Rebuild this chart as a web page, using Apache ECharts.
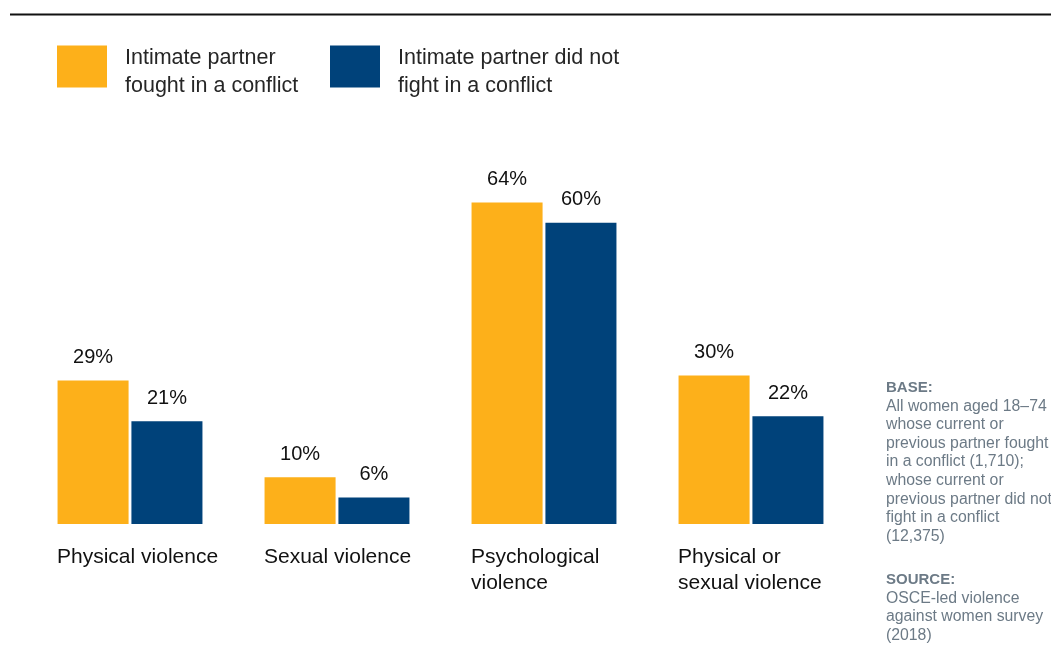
<!DOCTYPE html>
<html>
<head>
<meta charset="utf-8">
<script src="https://cdn.jsdelivr.net/npm/echarts@6/dist/echarts.min.js"></script>
<style>
  html, body { margin: 0; padding: 0; background: #ffffff; }
  #chart { width: 1051px; height: 659px; }
</style>
</head>
<body>
<div id="chart"></div>
<script>
// Violence categories (x axis)
const categories = [
  ['Physical violence'],
  ['Sexual violence'],
  ['Psychological', 'violence'],
  ['Physical or', 'sexual violence']
];

// Series names, each split into the two lines drawn in the legend
const seriesNames = [
  ['Intimate partner', 'fought in a conflict'],
  ['Intimate partner did not', 'fight in a conflict']
];

// Share of women (%) per category
const foughtValues = [29, 10, 64, 30];
const notFoughtValues = [21, 6, 60, 22];

// Side note
const baseTitle = 'BASE:';
const baseLines = [
  'All women aged 18\u201374',
  'whose current or',
  'previous partner fought',
  'in a conflict (1,710);',
  'whose current or',
  'previous partner did not',
  'fight in a conflict',
  '(12,375)'
];
const sourceTitle = 'SOURCE:';
const sourceLines = [
  'OSCE-led violence',
  'against women survey',
  '(2018)'
];

const ORANGE = '#FDB01A';
const BLUE = '#00427A';
const NOTE_GREY = '#6c7a86';
const FONT = '"Liberation Sans", Arial, sans-serif';

const chart = echarts.init(document.getElementById('chart'), null, { renderer: 'canvas' });

const legendNames = seriesNames.map(n => n.join(' '));

const valueLabel = {
  show: true,
  position: 'top',
  distance: 13,
  formatter: p => p.value + '%',
  color: '#111111',
  fontFamily: FONT,
  fontSize: 20
};

function noteText(title, lines, top) {
  return {
    type: 'text',
    left: 886,
    top: top,
    style: {
      text: '{h|' + title + '}\n' + lines.map(l => '{t|' + l + '}').join('\n'),
      fill: NOTE_GREY,
      rich: {
        h: { fontFamily: FONT, fontSize: 15, fontWeight: 'bold', fill: NOTE_GREY, lineHeight: 19 },
        t: { fontFamily: FONT, fontSize: 15.8, fill: NOTE_GREY, lineHeight: 18.6 }
      }
    }
  };
}

// Legend text: a thin spacer line pushes the two name lines slightly below the swatch centre
const legendRich = {
  s: { fontSize: 1, lineHeight: 12 },
  t: { fontFamily: FONT, fontSize: 21.5, color: '#262626', lineHeight: 28, width: 175 }
};

chart.setOption({
  animation: false,
  backgroundColor: '#ffffff',
  grid: { left: 26.5, right: 196.5, top: 172, bottom: 135, containLabel: false },
  legend: {
    data: legendNames,
    left: 52,
    top: 33,
    itemWidth: 50,
    itemHeight: 42,
    itemGap: 30,
    icon: 'rect',
    selectedMode: false,
    formatter: name => '{s| }\n' + seriesNames[legendNames.indexOf(name)].map(l => '{t|' + l + '}').join('\n'),
    textStyle: {
      fontFamily: FONT,
      fontSize: 21.5,
      color: '#262626',
      padding: [0, 0, 0, 13],
      rich: legendRich
    }
  },
  xAxis: {
    type: 'category',
    data: categories.map(c => c.join(' ')),
    axisLine: { show: false },
    axisTick: { show: false },
    axisLabel: {
      margin: 20,
      interval: 0,
      formatter: (v, i) => categories[i].map(l => '{c|' + l + '}').join('\n'),
      rich: {
        c: { width: 146, align: 'left', fontFamily: FONT, fontSize: 21, color: '#111111', lineHeight: 26 }
      }
    }
  },
  yAxis: {
    type: 'value',
    min: 0.8,
    max: 70,
    show: false,
    splitLine: { show: false }
  },
  series: [
    {
      name: legendNames[0],
      type: 'bar',
      data: foughtValues,
      barGap: '4%',
      barCategoryGap: '30%',
      itemStyle: { color: ORANGE },
      label: valueLabel
    },
    {
      name: legendNames[1],
      type: 'bar',
      data: notFoughtValues,
      barGap: '4%',
      barCategoryGap: '30%',
      itemStyle: { color: BLUE },
      label: valueLabel
    }
  ],
  graphic: [
    {
      type: 'line',
      shape: { x1: 10, y1: 14.5, x2: 1051, y2: 14.5 },
      style: { stroke: '#111111', lineWidth: 2 }
    },
    noteText(baseTitle, baseLines, 380),
    noteText(sourceTitle, sourceLines, 572)
  ]
});
</script>
</body>
</html>
